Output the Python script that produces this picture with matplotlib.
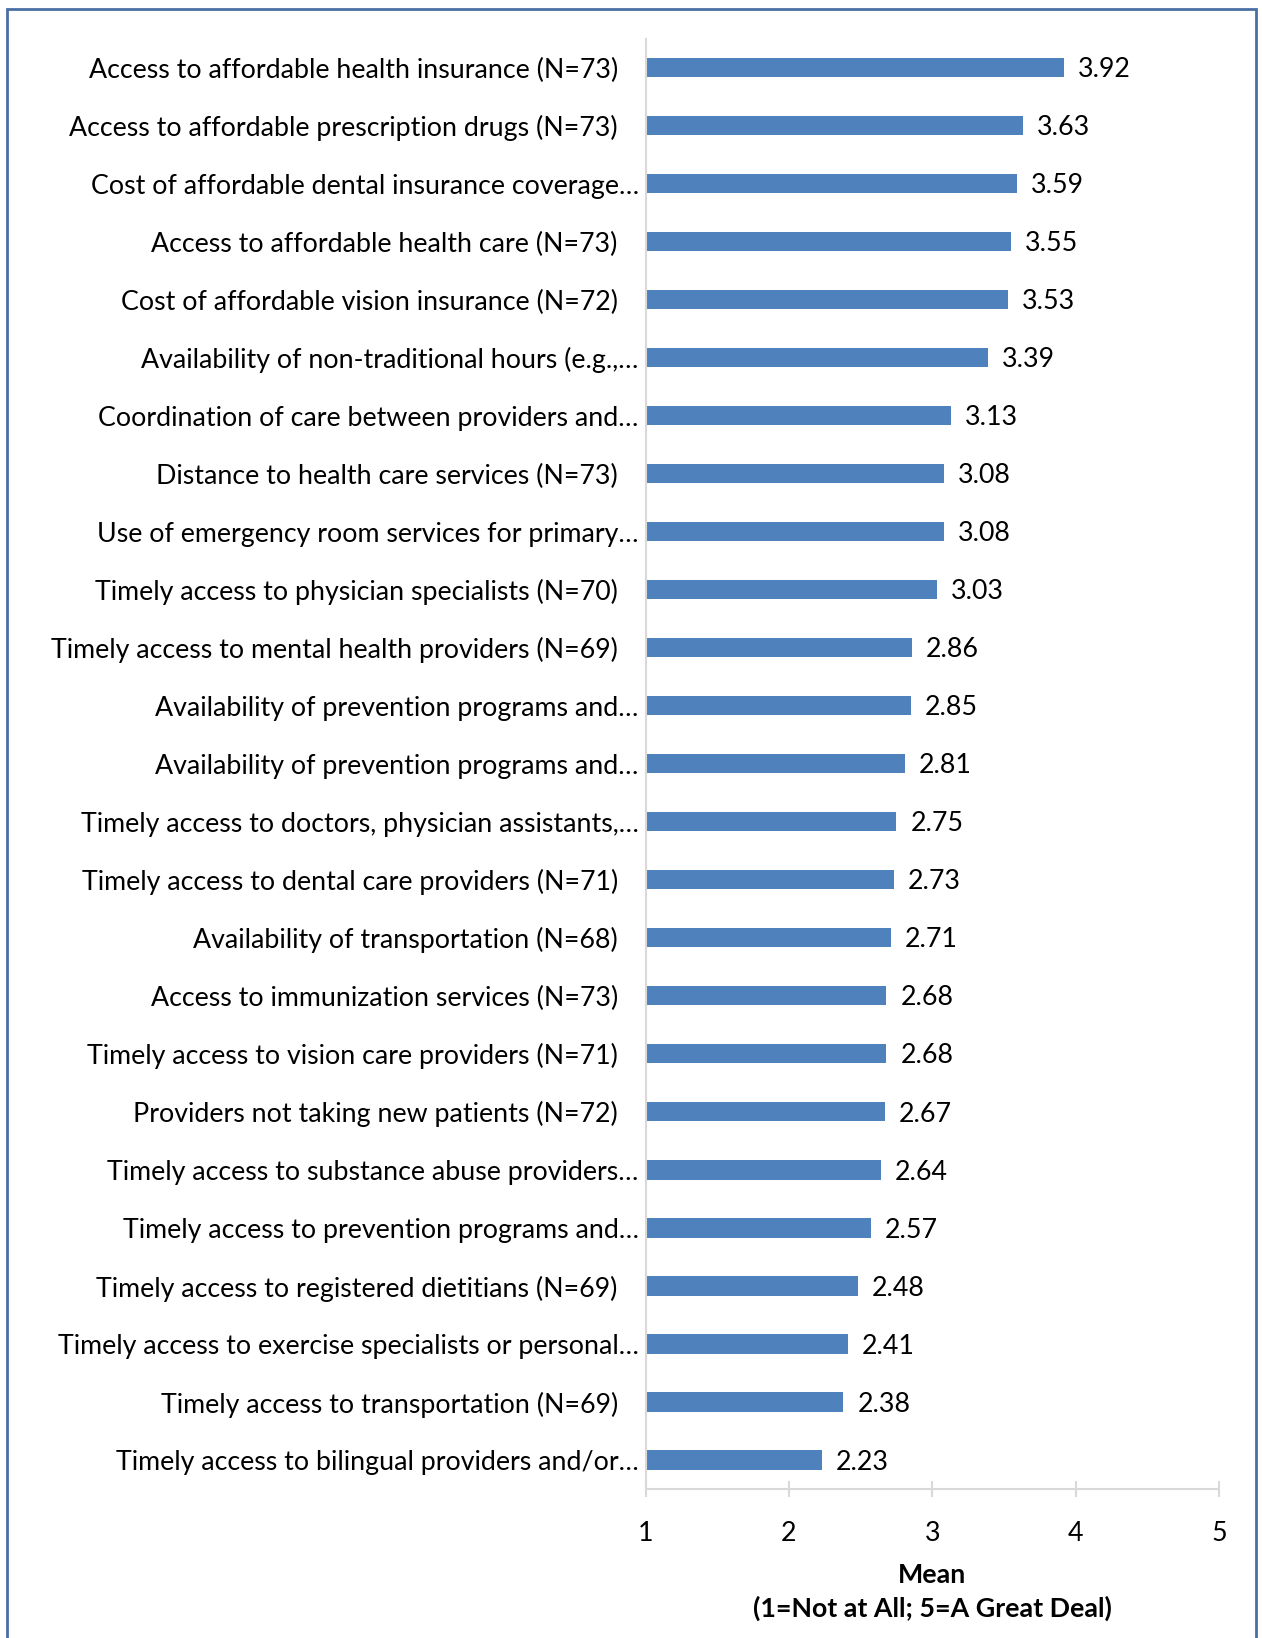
import matplotlib
matplotlib.use("Agg")
import matplotlib.pyplot as plt
from matplotlib.patches import Rectangle

plt.rcParams['font.family'] = ['Lato', 'DejaVu Sans']

categories = [
    "Access to affordable health insurance (N=73)",
    "Access to affordable prescription drugs (N=73)",
    "Cost of affordable dental insurance coverage…",
    "Access to affordable health care (N=73)",
    "Cost of affordable vision insurance (N=72)",
    "Availability of non-traditional hours (e.g.,…",
    "Coordination of care between providers and…",
    "Distance to health care services (N=73)",
    "Use of emergency room services for primary…",
    "Timely access to physician specialists (N=70)",
    "Timely access to mental health providers (N=69)",
    "Availability of prevention programs and…",
    "Availability of prevention programs and…",
    "Timely access to doctors, physician assistants,…",
    "Timely access to dental care providers (N=71)",
    "Availability of transportation (N=68)",
    "Access to immunization services (N=73)",
    "Timely access to vision care providers (N=71)",
    "Providers not taking new patients (N=72)",
    "Timely access to substance abuse providers…",
    "Timely access to prevention programs and…",
    "Timely access to registered dietitians (N=69)",
    "Timely access to exercise specialists or personal…",
    "Timely access to transportation (N=69)",
    "Timely access to bilingual providers and/or…",
]
means = [3.92, 3.63, 3.59, 3.55, 3.53, 3.39, 3.13, 3.08, 3.08, 3.03,
         2.86, 2.85, 2.81, 2.75, 2.73, 2.71, 2.68, 2.68, 2.67, 2.64,
         2.57, 2.48, 2.41, 2.38, 2.23]
xticks = [1, 2, 3, 4, 5]
xlabel = "Mean\n(1=Not at All; 5=A Great Deal)"

W, H = 1262, 1638
fs = 19.3
fig = plt.figure(figsize=(W / 100, H / 100), dpi=100)
ax = fig.add_axes([645.6 / W, 1 - 1489 / H, (1219 - 645.6) / W, (1489 - 38.7) / H])

ypos = list(range(len(categories)))
bar_color = "#4F81BD"
ax.barh(ypos, [m - 1 for m in means], left=1, height=0.33, color=bar_color)
ax.set_xlim(1, 5)
ax.set_ylim(len(categories) - 0.5, -0.5)
ax.set_yticks(ypos)
ax.set_yticklabels(categories, fontsize=fs)
ax.set_xticks(xticks)
ax.set_xticklabels([str(t) for t in xticks], fontsize=fs)

for y, m in zip(ypos, means):
    ax.annotate(f"{m:.2f}", xy=(m, y), xytext=(10, -1.5), textcoords="offset points",
                va="center", ha="left", fontsize=fs)

for s in ["top", "right"]:
    ax.spines[s].set_visible(False)
for s in ["left", "bottom"]:
    ax.spines[s].set_color("#D9D9D9")
    ax.spines[s].set_linewidth(1.5)
ax.tick_params(axis="y", length=0, pad=20)
ax.tick_params(axis="x", direction="inout", length=12, width=1.5, color="#D9D9D9", pad=17)

# truncated (ellipsis) labels sit closer to the axis, as in the original
for tick, cat in zip(ax.yaxis.get_major_ticks(), categories):
    if cat.endswith("…"):
        tick.set_pad(5)

ax.set_xlabel(xlabel, fontsize=fs, fontweight="bold", linespacing=1.45, labelpad=12)

fig.patches.append(Rectangle((7 / W, -0.05), (1256 - 7) / W, 1.05 - 9 / H,
                             transform=fig.transFigure, fill=False,
                             edgecolor="#4A6FA5", linewidth=2))

fig.savefig("out.png", dpi=100, facecolor="white")
